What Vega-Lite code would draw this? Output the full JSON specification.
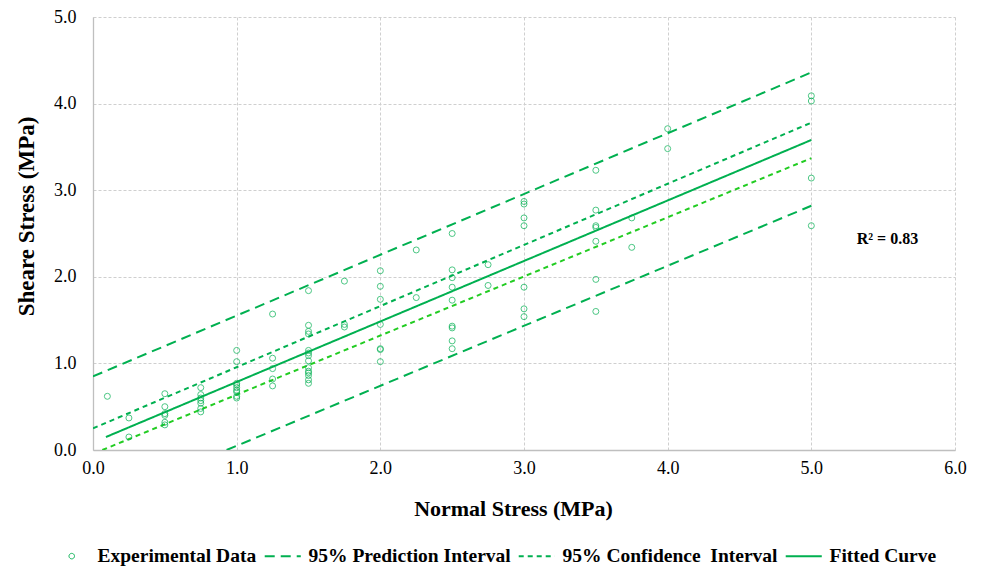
{
  "$schema": "https://vega.github.io/schema/vega-lite/v6.json",
  "width": 862,
  "height": 433,
  "autosize": {"type": "none"},
  "padding": {"left": 93, "top": 17, "right": 28, "bottom": 116},
  "background": "white",
  "config": {
    "view": {"stroke": null},
    "font": "Liberation Serif",
    "axis": {
      "labelFont": "Liberation Serif, Times New Roman, serif",
      "titleFont": "Liberation Serif",
      "labelColor": "#000000",
      "titleColor": "#000000",
      "gridColor": "#CFCFCF",
      "gridDash": [3, 2],
      "gridWidth": 1,
      "domainColor": "#BFBFBF",
      "domainWidth": 1.3,
      "ticks": false,
      "labelFlush": false
    },
    "legend": {
      "labelFont": "Liberation Serif",
      "labelFontWeight": "bold",
      "labelFontSize": 19.5,
      "labelColor": "#000000",
      "labelLimit": 0
    }
  },
  "datasets": {
    "points": [
      {"x": 0.1, "y": 0.62},
      {"x": 0.25, "y": 0.37}, {"x": 0.25, "y": 0.15},
      {"x": 0.5, "y": 0.65}, {"x": 0.5, "y": 0.5}, {"x": 0.5, "y": 0.42}, {"x": 0.5, "y": 0.4}, {"x": 0.5, "y": 0.32}, {"x": 0.5, "y": 0.29},
      {"x": 0.75, "y": 0.72}, {"x": 0.75, "y": 0.64}, {"x": 0.75, "y": 0.6}, {"x": 0.75, "y": 0.57}, {"x": 0.75, "y": 0.54}, {"x": 0.75, "y": 0.48}, {"x": 0.75, "y": 0.44},
      {"x": 1.0, "y": 1.15}, {"x": 1.0, "y": 1.02}, {"x": 1.0, "y": 0.77}, {"x": 1.0, "y": 0.75}, {"x": 1.0, "y": 0.72}, {"x": 1.0, "y": 0.69}, {"x": 1.0, "y": 0.67}, {"x": 1.0, "y": 0.62}, {"x": 1.0, "y": 0.6},
      {"x": 1.25, "y": 1.57}, {"x": 1.25, "y": 1.06}, {"x": 1.25, "y": 0.94}, {"x": 1.25, "y": 0.82}, {"x": 1.25, "y": 0.74},
      {"x": 1.5, "y": 1.84}, {"x": 1.5, "y": 1.44}, {"x": 1.5, "y": 1.37}, {"x": 1.5, "y": 1.34}, {"x": 1.5, "y": 1.15}, {"x": 1.5, "y": 1.12}, {"x": 1.5, "y": 1.09}, {"x": 1.5, "y": 1.03}, {"x": 1.5, "y": 0.95}, {"x": 1.5, "y": 0.91}, {"x": 1.5, "y": 0.89}, {"x": 1.5, "y": 0.86}, {"x": 1.5, "y": 0.81}, {"x": 1.5, "y": 0.77},
      {"x": 1.75, "y": 1.95}, {"x": 1.75, "y": 1.45}, {"x": 1.75, "y": 1.42},
      {"x": 2.0, "y": 2.07}, {"x": 2.0, "y": 1.89}, {"x": 2.0, "y": 1.74}, {"x": 2.0, "y": 1.45}, {"x": 2.0, "y": 1.17}, {"x": 2.0, "y": 1.16}, {"x": 2.0, "y": 1.02},
      {"x": 2.25, "y": 2.31}, {"x": 2.25, "y": 1.76},
      {"x": 2.5, "y": 2.5}, {"x": 2.5, "y": 2.08}, {"x": 2.5, "y": 1.99}, {"x": 2.5, "y": 1.88}, {"x": 2.5, "y": 1.73}, {"x": 2.5, "y": 1.43}, {"x": 2.5, "y": 1.41}, {"x": 2.5, "y": 1.26}, {"x": 2.5, "y": 1.17},
      {"x": 2.75, "y": 2.14}, {"x": 2.75, "y": 1.9},
      {"x": 3.0, "y": 2.87}, {"x": 3.0, "y": 2.84}, {"x": 3.0, "y": 2.68}, {"x": 3.0, "y": 2.59}, {"x": 3.0, "y": 1.88}, {"x": 3.0, "y": 1.63}, {"x": 3.0, "y": 1.54},
      {"x": 3.5, "y": 3.23}, {"x": 3.5, "y": 2.77}, {"x": 3.5, "y": 2.59}, {"x": 3.5, "y": 2.57}, {"x": 3.5, "y": 2.41}, {"x": 3.5, "y": 1.97}, {"x": 3.5, "y": 1.6},
      {"x": 3.75, "y": 2.68}, {"x": 3.75, "y": 2.34},
      {"x": 4.0, "y": 3.71}, {"x": 4.0, "y": 3.48},
      {"x": 5.0, "y": 4.09}, {"x": 5.0, "y": 4.03}, {"x": 5.0, "y": 3.14}, {"x": 5.0, "y": 2.59}
    ],
    "lines": [
      {"series": "95% Prediction Interval", "band": "pred_upper", "x": 0, "y": 0.85},
      {"series": "95% Prediction Interval", "band": "pred_upper", "x": 5, "y": 4.36},
      {"series": "95% Prediction Interval", "band": "pred_lower", "x": 0.93, "y": 0},
      {"series": "95% Prediction Interval", "band": "pred_lower", "x": 5, "y": 2.82},
      {"series": "95% Confidence\u00a0 Interval", "band": "conf_upper", "x": 0, "y": 0.25},
      {"series": "95% Confidence\u00a0 Interval", "band": "conf_upper", "x": 5, "y": 3.78},
      {"series": "95% Confidence\u00a0 Interval", "band": "conf_lower", "x": 0.065, "y": 0},
      {"series": "95% Confidence\u00a0 Interval", "band": "conf_lower", "x": 5, "y": 3.37},
      {"series": "Fitted Curve", "band": "fit", "x": 0.09, "y": 0.15},
      {"series": "Fitted Curve", "band": "fit", "x": 5, "y": 3.58}
    ],
    "labels": [
      {"x": 5.53, "y": 2.44, "text": "R² = 0.83"}
    ]
  },
  "layer": [
    {
      "data": {"name": "lines"},
      "transform": [{"filter": "datum.band !== 'conf_lower'"}],
      "mark": {"type": "line", "strokeWidth": 2, "clip": true},
      "encoding": {
        "x": {
          "field": "x", "type": "quantitative",
          "scale": {"domain": [0, 6], "nice": false},
          "axis": {
            "values": [0, 1, 2, 3, 4, 5, 6], "format": ".1f",
            "labelFont": "Liberation Serif, Times New Roman, serif", "labelFontSize": 18, "labelPadding": 9, "labelFlush": false,
            "title": "Normal Stress (MPa)", "titleFont": "Liberation Serif", "titleFontSize": 22, "titleFontWeight": "bold", "titlePadding": 21,
            "titleX": 420
          }
        },
        "y": {
          "field": "y", "type": "quantitative",
          "scale": {"domain": [0, 5], "nice": false},
          "axis": {
            "values": [0, 1, 2, 3, 4, 5], "format": ".1f",
            "labelFont": "Liberation Serif, Times New Roman, serif", "labelFontSize": 18, "labelPadding": 17, "labelFlush": false,
            "title": "Sheare Stress (MPa)", "titleFont": "Liberation Serif", "titleFontSize": 23, "titleFontWeight": "bold", "titlePadding": 15,
            "titleY": 199
          }
        },
        "detail": {"field": "band"},
        "color": {
          "field": "series", "type": "nominal",
          "scale": {
            "domain": ["Experimental Data", "95% Prediction Interval", "95% Confidence\u00a0 Interval", "Fitted Curve"],
            "range": ["#00B050", "#00B050", "#00B050", "#00B050"]
          },
          "legend": {
            "title": null,
            "orient": "none",
            "direction": "horizontal",
            "legendX": -31,
            "legendY": 529,
            "columnPadding": 3,
            "labelOffset": 16,
            "labelLimit": 0,
            "symbolStrokeWidth": 2,
            "encode": {
              "symbols": {
                "update": {
                  "shape": {"signal": "datum.value === 'Experimental Data' ? 'circle' : 'stroke'"},
                  "size": {"signal": "datum.value === 'Experimental Data' ? 30 : 1300"},
                  "strokeWidth": {"signal": "datum.value === 'Experimental Data' ? 1 : 2"},
                  "fill": {"value": "transparent"},
                  "stroke": {"value": "#00B050"}
                }
              }
            }
          }
        },
        "strokeDash": {
          "field": "series", "type": "nominal",
          "scale": {
            "domain": ["Experimental Data", "95% Prediction Interval", "95% Confidence\u00a0 Interval", "Fitted Curve"],
            "range": [[1, 0], [10, 6], [5, 4], [1, 0]]
          },
          "legend": null
        }
      }
    },
    {
      "data": {"name": "lines"},
      "transform": [{"filter": "datum.band === 'conf_lower'"}],
      "mark": {"type": "line", "strokeWidth": 2, "color": "#22CC22", "strokeDash": [5, 4], "clip": true},
      "encoding": {
        "x": {"field": "x", "type": "quantitative"},
        "y": {"field": "y", "type": "quantitative"}
      }
    },
    {
      "data": {"name": "points"},
      "mark": {"type": "point", "shape": "circle", "filled": false, "size": 36, "strokeWidth": 1, "color": "#00B050"},
      "encoding": {
        "x": {"field": "x", "type": "quantitative"},
        "y": {"field": "y", "type": "quantitative"}
      }
    },
    {
      "data": {"name": "labels"},
      "mark": {"type": "text", "font": "Liberation Serif", "fontWeight": "bold", "fontSize": 16, "color": "#000000"},
      "encoding": {
        "x": {"field": "x", "type": "quantitative"},
        "y": {"field": "y", "type": "quantitative"},
        "text": {"field": "text"}
      }
    }
  ]
}
